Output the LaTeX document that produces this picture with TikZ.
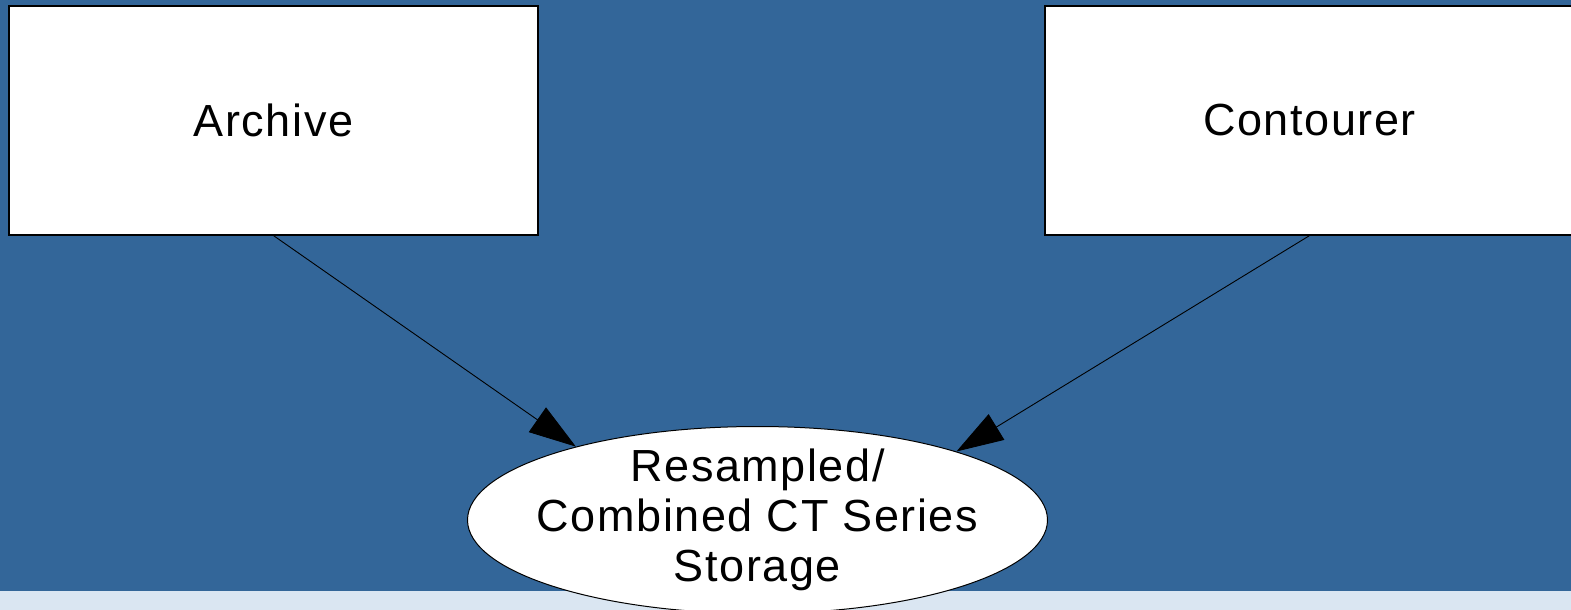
\documentclass[tikz,border=0pt]{standalone}
\usepackage{fontspec}
\setmainfont{Liberation Sans}[LetterSpace=3.5]
\usetikzlibrary{arrows.meta,positioning,shapes.geometric}
\definecolor{bgblue}{RGB}{51,102,153}
\definecolor{stripblue}{RGB}{218,230,242}
\begin{document}
\begin{tikzpicture}[x=1pt,y=-1pt,node distance=1036pt,
                    box node/.style={rectangle,draw,fill=white,line width=1.2pt,
                      minimum width=529pt,minimum height=229pt,inner sep=0pt,
                      font=\fontsize{45}{50}\selectfont},
                    store node/.style={ellipse,draw,fill=white,line width=1pt,
                      minimum width=580pt,minimum height=187pt,
                      inner xsep=-40pt,inner ysep=-30pt,
                      align=center,font=\fontsize{45}{50}\selectfont},
                    flow/.style={-{Triangle[length=47pt,width=30pt]},line width=0.9pt}]

  % background
  \fill[bgblue] (0,0) rectangle (1571,591);
  \fill[stripblue] (0,591) rectangle (1571,610);
  \useasboundingbox (0,0) rectangle (1571,610);

  \node[box node] (archive) at (273.5,120.5) {Archive};
  \node[box node] (contourer) [right of=archive] {Contourer};
  \node[store node] (storage) at (757.5,520) {Resampled/\\Combined CT Series\\Storage};

  \draw[flow] (archive.south) -- (storage.158.6);
  \draw[flow] (contourer.south) -- (storage.19.5);
\end{tikzpicture}
\end{document}
